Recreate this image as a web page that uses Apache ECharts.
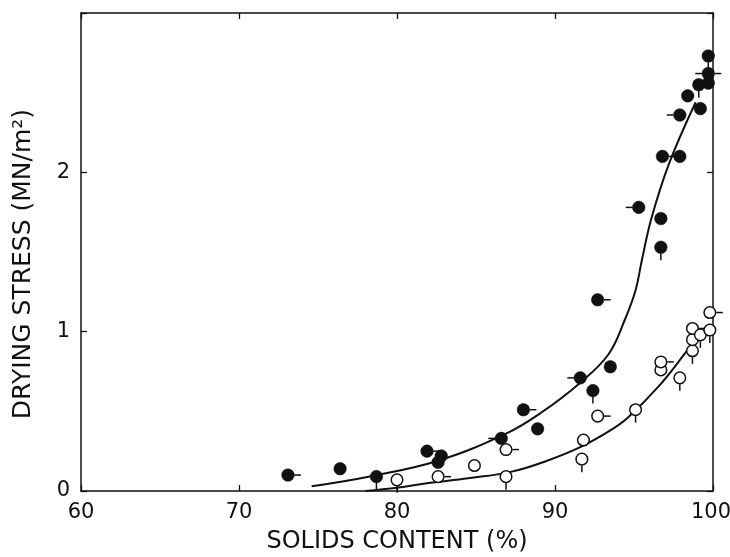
<!DOCTYPE html>
<html><head><meta charset="utf-8">
<script src="https://cdn.jsdelivr.net/npm/echarts@6/dist/echarts.min.js"></script>
<style>html,body{margin:0;padding:0;background:#fff}#c{width:730px;height:557px}</style>
</head><body><div id="c"></div>
<script>
// x tick labels and y tick labels
const xTicks = [60, 70, 80, 90, 100];
const yTicks = [0, 1, 2];

// Filled-circle data (solids content %, drying stress MN/m2) and error-tail direction
const filledX = [73.1, 76.4, 78.7, 81.9, 82.8, 82.6, 86.6, 88.0, 88.9, 91.6, 92.4, 92.7, 93.5, 95.3, 96.7, 96.7, 96.8, 97.9, 97.9, 98.4, 99.1, 99.2, 99.7, 99.7, 99.7];
const filledY = [0.10, 0.14, 0.09, 0.25, 0.22, 0.18, 0.33, 0.51, 0.39, 0.71, 0.63, 1.20, 0.78, 1.78, 1.71, 1.53, 2.10, 2.10, 2.36, 2.48, 2.55, 2.40, 2.73, 2.62, 2.56];
const filledTail = ['r','n','d','r','n','n','l','r','n','l','d','r','n','l','n','d','r','n','l','n','d','n','d','x','n'];

// Open-circle data
const openX = [80.0, 82.6, 84.9, 86.9, 86.9, 91.7, 91.8, 92.7, 95.1, 96.7, 96.7, 97.9, 98.7, 98.7, 98.7, 99.2, 99.8, 99.8];
const openY = [0.07, 0.09, 0.16, 0.09, 0.26, 0.20, 0.32, 0.47, 0.51, 0.76, 0.81, 0.71, 0.88, 0.95, 1.02, 0.98, 1.01, 1.12];
const openTail = ['d','r','n','d','r','d','n','r','d','n','r','d','d','n','r','d','d','r'];

// Fitted curves
const curveFilledX = [74.6, 78.2, 82.6, 86.9, 89.1, 91.6, 93.4, 94.4, 95.1, 95.5, 96.1, 97.2, 98.9];
const curveFilledY = [0.03, 0.09, 0.19, 0.36, 0.49, 0.68, 0.86, 1.07, 1.26, 1.45, 1.71, 2.05, 2.44];
const curveOpenX = [78.0, 80.0, 82.0, 84.5, 87.2, 89.5, 91.7, 93.5, 94.6, 96.5, 98.2, 98.7];
const curveOpenY = [0.0, 0.02, 0.05, 0.08, 0.12, 0.19, 0.28, 0.38, 0.46, 0.65, 0.86, 0.93];

const zip = (a, b) => a.map((v, i) => [v, b[i]]);
const INK = '#111';
const FONT = 'DejaVu Sans';

function makeRender(tails, filled) {
  return function (params, api) {
    const p = api.coord([api.value(0), api.value(1)]);
    const r = 6.3, L = 13;
    const t = tails[params.dataIndex];
    const children = [];
    const seg = (x1, y1, x2, y2) => children.push({
      type: 'line', shape: {x1, y1, x2, y2}, style: {stroke: INK, lineWidth: 1.5}
    });
    if (t === 'r' || t === 'x') seg(p[0] + r, p[1], p[0] + L, p[1]);
    if (t === 'l' || t === 'x') seg(p[0] - r, p[1], p[0] - L, p[1]);
    if (t === 'd') seg(p[0], p[1] + r, p[0], p[1] + L);
    children.push({
      type: 'circle', shape: {cx: p[0], cy: p[1], r: filled ? r : r - 0.5},
      style: filled ? {fill: INK, stroke: INK, lineWidth: 0.5} : {fill: '#fff', stroke: INK, lineWidth: 1.5}
    });
    return {type: 'group', children};
  };
}

const chart = echarts.init(document.getElementById('c'), null, {renderer: 'canvas'});
const axisCommon = {
  axisLine: {show: true, onZero: false, lineStyle: {color: INK, width: 1.5}},
  axisTick: {show: true, inside: true, length: 6, lineStyle: {color: INK, width: 1.3}},
  splitLine: {show: false}
};
const lastX = xTicks[xTicks.length - 1];
chart.setOption({
  backgroundColor: '#fff',
  animation: false,
  grid: {left: 81, right: 17, top: 13, bottom: 66, outerBoundsMode: 'none', containLabel: false},
  xAxis: [
    Object.assign({
      type: 'value', min: xTicks[0], max: lastX, interval: 10, position: 'bottom',
      name: 'SOLIDS CONTENT (%)', nameLocation: 'middle', nameGap: 39,
      nameTextStyle: {fontFamily: FONT, fontSize: 24, color: INK},
      axisLabel: {fontFamily: FONT, fontSize: 21, color: INK, margin: 11,
        formatter: v => (v === lastX ? '{e|' + v + '}' : String(v)),
        rich: {e: {fontFamily: FONT, fontSize: 21, color: INK, padding: [0, 4, 0, 0]}}}
    }, axisCommon),
    Object.assign({
      type: 'value', min: xTicks[0], max: lastX, interval: 10, position: 'top',
      axisLabel: {show: false}
    }, axisCommon)
  ],
  yAxis: [
    Object.assign({
      type: 'value', min: 0, max: 3, interval: 1, position: 'left',
      name: 'DRYING STRESS (MN/m²)', nameLocation: 'middle', nameGap: 45,
      nameTextStyle: {fontFamily: FONT, fontSize: 25, color: INK, padding: [0, 24, 0, 0]},
      axisLabel: {fontFamily: FONT, fontSize: 21, color: INK, margin: 11,
        formatter: v => (yTicks.indexOf(v) >= 0 ? String(v) : '')}
    }, axisCommon),
    Object.assign({
      type: 'value', min: 0, max: 3, interval: 1, position: 'right',
      axisLabel: {show: false}
    }, axisCommon)
  ],
  series: [
    {type: 'line', data: zip(curveFilledX, curveFilledY), smooth: 0.4, showSymbol: false,
     lineStyle: {color: INK, width: 2}, z: 2},
    {type: 'line', data: zip(curveOpenX, curveOpenY), smooth: 0.4, showSymbol: false,
     lineStyle: {color: INK, width: 2}, z: 2},
    {type: 'custom', data: zip(filledX, filledY), renderItem: makeRender(filledTail, true), clip: false, z: 5},
    {type: 'custom', data: zip(openX, openY), renderItem: makeRender(openTail, false), clip: false, z: 5}
  ]
});
</script></body></html>
